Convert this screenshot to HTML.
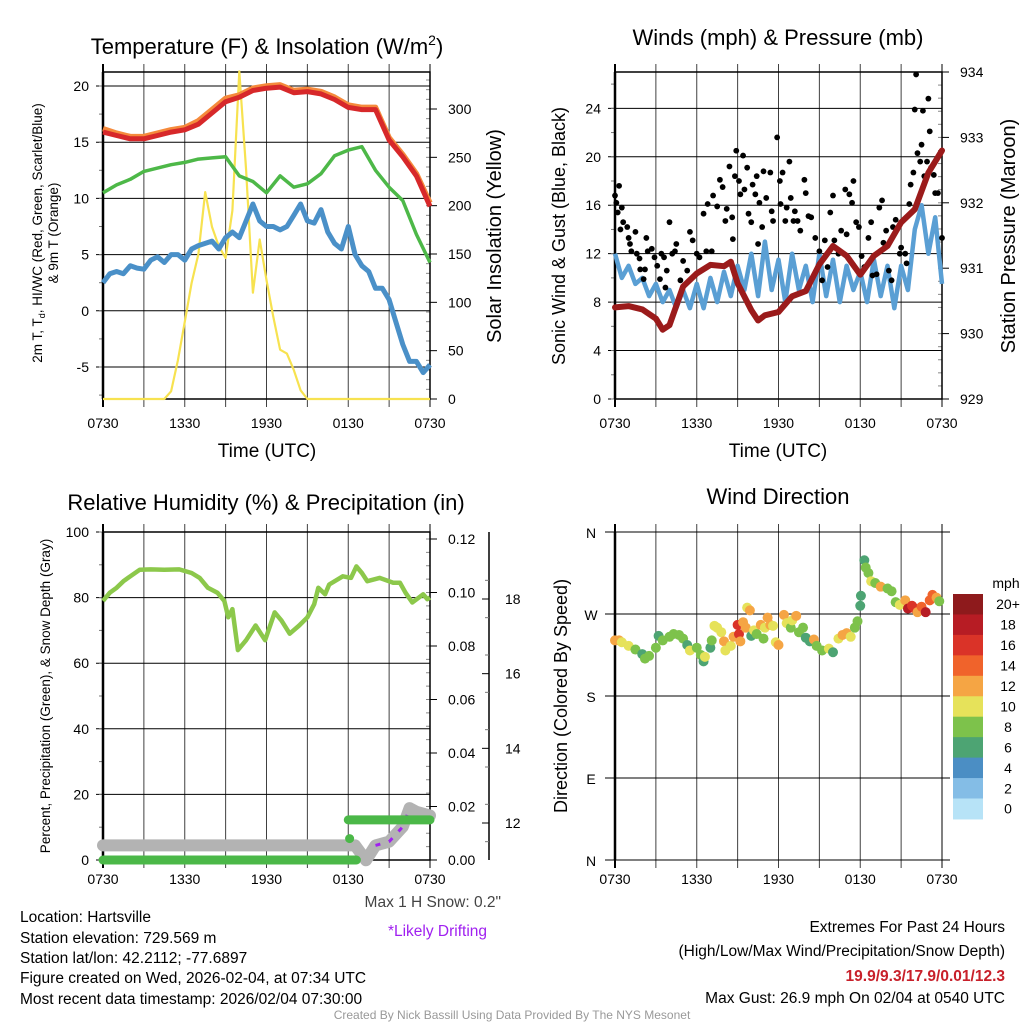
<!DOCTYPE html>
<html><head><meta charset="utf-8"><title>Mesonet Station Meteogram - Hartsville</title>
<style>
html,body{margin:0;padding:0;background:#fff;}
svg{display:block;font-family:"Liberation Sans",Arial,sans-serif;}
</style></head>
<body>
<svg id="fig" xmlns="http://www.w3.org/2000/svg" width="1024" height="1024" viewBox="0 0 1024 1024">
<rect x="0" y="0" width="1024" height="1024" fill="#fff"/>
<text x="267" y="54" font-size="22" text-anchor="middle">Temperature (F) &amp; Insolation (W/m<tspan font-size="14" dy="-9">2</tspan><tspan dy="9">)</tspan></text>
<text x="778" y="45" font-size="22" text-anchor="middle">Winds (mph) &amp; Pressure (mb)</text>
<text x="266" y="510" font-size="22" text-anchor="middle">Relative Humidity (%) &amp; Precipitation (in)</text>
<text x="778" y="504" font-size="22" text-anchor="middle">Wind Direction</text>
<text transform="translate(42,233) rotate(-90)" font-size="13.5" text-anchor="middle">2m T, T<tspan font-size="9" dy="3">d</tspan><tspan dy="-3">, HI/WC (Red, Green, Scarlet/Blue)</tspan></text>
<text transform="translate(58,233) rotate(-90)" font-size="13.5" text-anchor="middle">&amp; 9m T (Orange)</text>
<text transform="translate(501,236) rotate(-90)" font-size="20" text-anchor="middle">Solar Insolation (Yellow)</text>
<text x="267" y="457" font-size="19" text-anchor="middle">Time (UTC)</text>
<text x="778" y="457" font-size="19" text-anchor="middle">Time (UTC)</text>
<text transform="translate(565,236) rotate(-90)" font-size="18" text-anchor="middle">Sonic Wind &amp; Gust (Blue, Black)</text>
<text transform="translate(1015,236) rotate(-90)" font-size="20" text-anchor="middle">Station Pressure (Maroon)</text>
<text transform="translate(50,696) rotate(-90)" font-size="13.5" text-anchor="middle">Percent, Precipitation (Green), &amp; Snow Depth (Gray)</text>
<text transform="translate(567,696) rotate(-90)" font-size="18" text-anchor="middle">Direction (Colored By Speed)</text>
<g font-size="15.5">
<text x="20" y="922">Location: Hartsville</text>
<text x="20" y="943">Station elevation: 729.569 m</text>
<text x="20" y="963">Station lat/lon: 42.2112; -77.6897</text>
<text x="20" y="983">Figure created on Wed, 2026-02-04, at 07:34 UTC</text>
<text x="20" y="1004">Most recent data timestamp: 2026/02/04 07:30:00</text>
</g>
<text x="501" y="907" font-size="15.5" fill="#444" text-anchor="end">Max 1 H Snow: 0.2"</text>
<text x="487" y="936" font-size="15.5" fill="#a020f0" text-anchor="end">*Likely Drifting</text>
<g font-size="15.5" text-anchor="end">
<text x="1005" y="932">Extremes For Past 24 Hours</text>
<text x="1005" y="956">(High/Low/Max Wind/Precipitation/Snow Depth)</text>
<text x="1005" y="981" fill="#c8202a" font-weight="bold">19.9/9.3/17.9/0.01/12.3</text>
<text x="1005" y="1003">Max Gust: 26.9 mph On 02/04 at 0540 UTC</text>
</g>
<text x="512" y="1019" font-size="12" fill="#999" text-anchor="middle">Created By Nick Bassill Using Data Provided By The NYS Mesonet</text>
</svg>
<script>
// ---------- data ----------
const timeLabels = ["0730","1330","1930","0130","0730"];
const halfHours = [0,0.5,1,1.5,2,2.5,3,3.5,4,4.5,5,5.5,6,6.5,7,7.5,8,8.5,9,9.5,10,10.5,11,11.5,12,12.5,13,13.5,14,14.5,15,15.5,16,16.5,17,17.5,18,18.5,19,19.5,20,20.5,21,21.5,22,22.5,23,23.5,24];
const hours = [0,1,2,3,4,5,6,7,8,9,10,11,12,13,14,15,16,17,18,19,20,21,22,23,24];
const tempRed = [15.9,15.6,15.3,15.3,15.6,15.9,16.1,16.6,17.6,18.6,19.0,19.6,19.8,19.9,19.4,19.5,19.3,18.8,18.1,17.9,17.9,15.2,13.7,12.0,9.3];
const temp9m = [16.2,15.8,15.5,15.5,15.8,16.1,16.3,16.9,17.9,18.9,19.2,19.8,20.0,20.1,19.6,19.7,19.5,19.0,18.3,18.1,18.1,15.4,13.9,12.2,9.6];
const dewGreen = [10.5,11.2,11.7,12.4,12.7,13.0,13.2,13.5,13.6,13.7,12.0,11.5,10.5,12.0,11.0,11.3,12.2,13.8,14.3,14.6,12.5,11.0,9.8,6.8,4.3];
const windChill = [2.5,3.3,3.5,3.3,4.0,3.8,3.7,4.5,4.8,4.3,5.0,5.0,4.5,5.5,5.8,6.0,6.2,5.5,6.5,7.0,6.5,8.0,9.5,8.0,7.5,7.5,7.2,7.5,8.5,9.5,8.0,7.8,9.0,7.0,6.0,5.5,7.5,5.0,4.0,3.5,2.0,2.0,1.0,-1.0,-3.0,-4.5,-4.5,-5.5,-4.8];
const solar = [0,0,0,0,0,0,0,0,0,0,8,40,80,120,150,214,178,158,146,195,339,237,110,165,123,85,51,47,30,9,0,0,0,0,0,0,0,0,0,0,0,0,0,0,0,0,0,0,0];
const sonicWind = [12,10,11,9.5,10,8.5,9.5,8,9,7.5,9,7.5,9.5,7.5,10,8,10.5,8.5,11,9,12,8.5,13,9,11.5,8,12,9,11,8,12,8.5,11.5,8,11,9,10.5,8,11.5,8.5,11,7.5,11,9,14,16,12,15,9.5];
const pressureHours = [0,1,2,3,3.5,4,5,6,7,8,8.5,9,10,10.5,11,12,13,14,15,16,17,18,19,20,21,22,23,24];
const pressureValues = [930.4,930.42,930.37,930.23,930.06,930.13,930.72,930.92,931.05,931.03,931.1,930.77,930.36,930.2,930.28,930.33,930.57,930.65,931.06,931.34,931.19,930.9,931.19,931.34,931.7,931.9,932.46,932.8];
const gustHours = [0,0.1,0.2,0.3,0.5,0.6,0.4,0.9,1.0,1.1,1.2,1.5,1.6,1.8,1.85,2.1,2.2,2.3,2.4,2.7,2.9,3.1,3.3,3.4,3.6,3.7,3.8,4.0,4.2,4.4,4.5,4.8,5.0,5.3,5.5,5.7,6.0,6.2,6.5,6.7,6.8,7.1,7.2,7.5,7.7,7.9,8.1,8.2,8.4,8.6,8.65,8.8,8.9,9.1,9.2,9.4,9.5,9.7,9.8,10.0,10.1,10.3,10.4,10.5,10.6,10.8,10.9,11.1,11.4,11.5,11.6,11.9,12.1,12.15,12.3,12.5,12.6,12.8,12.9,13.1,13.2,13.4,13.6,13.9,14.0,14.2,14.4,14.7,15.0,15.2,15.4,15.6,15.8,16.0,16.1,16.4,16.6,16.9,17.0,17.2,17.4,17.5,17.7,17.9,18.1,18.3,18.6,18.8,18.9,19.2,19.4,19.6,19.7,19.9,20.1,20.3,20.4,20.6,20.9,21.0,21.3,21.4,21.6,21.7,21.9,22.0,22.1,22.2,22.4,22.5,22.6,22.7,22.9,23.0,23.1,23.2,23.4,23.5,23.7,24.0];
const gustValues = [16.8,16.2,15.4,17.6,15.8,14.6,14.0,14.2,13.3,12.8,12.2,13.8,12.0,11.6,10.7,9.9,10.7,13.3,12.2,12.4,11.7,11.0,9.9,12.0,11.7,9.2,10.6,14.6,12.0,12.2,12.8,9.8,11.4,10.6,13.8,13.1,12.0,11.7,15.3,12.2,16.1,12.2,16.8,15.9,18.1,17.5,14.7,15.7,19.2,15.0,13.2,18.4,20.5,18.0,16.9,20.1,17.3,19.1,15.3,14.6,17.7,16.9,18.4,12.8,16.2,14.2,18.8,16.6,18.7,15.5,14.7,21.6,18.0,16.1,18.7,14.7,15.8,19.6,16.6,14.7,15.5,14.7,13.9,18.1,17.0,15.1,15.0,13.3,12.2,9.8,13.1,10.9,15.4,16.8,13.1,12.0,13.9,17.3,13.6,16.9,16.2,18.0,14.6,14.2,11.8,10.9,13.3,14.6,10.2,10.3,15.8,16.4,12.9,13.9,10.6,9.8,14.2,14.8,12.0,12.5,12.0,11.2,16.1,17.7,18.7,23.9,26.8,20.3,19.6,21.0,23.8,18.4,19.6,24.8,22.1,19.1,18.5,17.0,17.0,13.3];
const rhHours = [0,0.5,1,1.5,2,2.7,3.5,4.5,5.6,6.5,7.1,7.7,8.4,8.9,9.2,9.5,9.9,10.5,11.2,11.9,12.6,13.1,13.7,14.4,15.0,15.5,15.8,16.3,16.6,17.6,18.2,18.6,19.0,19.4,20.3,21.3,21.8,22.2,22.7,23.5,23.8,24];
const rhValues = [79,81.5,83,85,86.5,88.5,88.6,88.5,88.6,87.5,86,83,81.5,79,74,76.5,64,67,71.5,67,75.5,73,69,71.5,74,78,83,81,84,86.5,86,89.5,87.5,85,86,84.5,84.5,81.5,78.5,81,79.5,80];
const precipStart = [0,18.0,18.1];
const precipEnd = [18.6,24,18.1];
const precipValues = [0,0.015,0.008];
const snowHours = [0,18.5,19.3,20,21,22,22.5,23,24];
const snowValues = [11.4,11.4,11.0,11.4,11.5,11.9,12.4,12.3,12.2];
const driftHours = [20,21,22,22.5];
const driftValues = [11.4,11.5,11.9,12.4];
const dirHours = [0,0.3,0.5,1,1.5,2,2.2,2.5,3,3.2,3.5,4,4.3,4.7,5,5.3,5.5,6,6.3,6.5,6.6,7.0,7.1,7.3,7.5,7.8,8,8.1,8.5,8.7,9.0,9.1,9.2,9.4,9.6,9.7,9.9,10.0,10.2,10.4,10.7,10.9,11.0,11.2,11.4,11.6,11.8,12.0,12.4,12.6,12.9,13.0,13.3,13.5,13.8,14,14.3,14.6,14.8,15.2,15.7,16.0,16.4,16.7,17.0,17.3,17.6,17.8,18.0,18.05,18.3,18.4,18.6,18.8,19.1,19.5,20.0,20.3,20.6,20.9,21.3,21.5,21.8,22.0,22.2,22.5,22.8,23.1,23.3,23.6,23.8];
const dirValues = [241,241,239,235,231,226,221,224,233,246,241,245,248,247,243,236,230,233,225,218,223,233,241,257,255,250,240,230,235,245,258,248,240,261,255,277,274,246,252,248,258,243,255,266,258,257,239,236,269,260,255,263,268,250,255,244,240,242,235,230,232,228,243,247,249,245,255,262,279,290,329,321,315,306,304,300,298,295,283,280,285,276,279,276,272,278,272,285,291,288,284];
const dirSpeeds = [12,12,10,10,8,7,8,8,8,6,8,8,8,8,8,6,10,8,8,7,10,6,8,10,10,10,12,10,10,12,16,17,12,12,12,10,13,6,10,8,12,8,10,12,12,10,10,12,12,10,8,10,12,8,8,7,6,12,8,8,10,7,10,12,12,10,8,8,7,6,6,8,8,10,8,12,8,8,8,10,12,18,16,16,12,14,18,14,14,12,8];
const speedBins = ["0","2","4","6","8","10","12","14","16","18","20+"];
const speedColors = ["#b7e3f7","#84bde6","#4b8ec4","#4da473","#7dc24b","#e6e25a","#f5a544","#f0632b","#da3328","#b71c24","#8e1a1c"];

// ---------- helpers ----------
const NS = "http://www.w3.org/2000/svg";
const svg = document.getElementById("fig");
function mk(tag, attrs, parent){
  const e = document.createElementNS(NS, tag);
  for (const k in attrs) e.setAttribute(k, attrs[k]);
  (parent || svg).appendChild(e);
  return e;
}
function linScale(d0,d1,r0,r1){ return v => r0 + (v-d0)*(r1-r0)/(d1-d0); }
function pathFrom(xs, ys, sx, sy){
  let d = "";
  for (let i=0;i<xs.length;i++) d += (i?"L":"M") + sx(xs[i]).toFixed(1) + "," + sy(ys[i]).toFixed(1);
  return d;
}
function drawTimeAxis(g, x0, x1, y0, y1, labelY){
  const sx = linScale(0,24,x0,x1);
  for (let h=0; h<=24; h+=3){
    const l = mk("line",{x1:sx(h),x2:sx(h),y1:y0-8,y2:y1+8,stroke:"#000","stroke-width":(h===0?2:1),"stroke-opacity":(h===0||h===24?1:0.75)},g);
    
    
  }
  for (let i=0;i<timeLabels.length;i++){
    const t = mk("text",{x:sx(i*6),y:labelY,"font-size":"14","text-anchor":"middle"},g);
    t.textContent = timeLabels[i];
    
    
  }
  return sx;
}
function drawLeftAxis(g, ticks, labels, sy, x0, x1, minorStep, dmin, dmax, labelX){
  for (let i=0;i<ticks.length;i++){
    const l = mk("line",{x1:x0-7,x2:x1,y1:sy(ticks[i]),y2:sy(ticks[i]),stroke:"#000","stroke-width":"1"},g);
    
    
    const t = mk("text",{x:labelX,y:sy(ticks[i])+5,"font-size":"14","text-anchor":"end"},g);
    t.textContent = labels[i];
    
    
  }
  if (minorStep){
    for (let v=Math.ceil(dmin/minorStep)*minorStep; v<=dmax; v+=minorStep){
      const m = mk("line",{x1:x0-4,x2:x0,y1:sy(v),y2:sy(v),stroke:"#777","stroke-width":"1"},g);
      
      
    }
  }
}
function drawRightAxis(g, ticks, labels, sy, x1, minorStep, dmin, dmax, labelX){
  for (let i=0;i<ticks.length;i++){
    const l = mk("line",{x1:x1,x2:x1+7,y1:sy(ticks[i]),y2:sy(ticks[i]),stroke:"#000","stroke-width":"1"},g);
    
    
    const t = mk("text",{x:labelX,y:sy(ticks[i])+5,"font-size":"14"},g);
    t.textContent = labels[i];
    
    
  }
  if (minorStep){
    for (let v=Math.ceil(dmin/minorStep)*minorStep; v<=dmax+1e-9; v+=minorStep){
      const m = mk("line",{x1:x1-4,x2:x1,y1:sy(v),y2:sy(v),stroke:"#888","stroke-width":"1"},g);
      
      
    }
  }
}
function frame(g,x0,x1,y0,y1){
  const r = mk("rect",{x:x0,y:y0,width:x1-x0,height:y1-y0,fill:"none",stroke:"#000","stroke-width":"1.5"},g);
  
  
  const l = mk("line",{x1:x0,x2:x0,y1:y0,y2:y1,stroke:"#000","stroke-width":"2.5"},g);
  
  
}

// ---------- panel 1: temperature ----------
(function(){
  const g = mk("g",{});
  
  
  const x0=103,x1=430,y0=72,y1=399;
  const sx = drawTimeAxis(g,x0,x1,y0,y1,428);
  const sy = linScale(20,-5,86,367);
  const sr = linScale(0,300,399,109);
  drawLeftAxis(g,[20,15,10,5,0,-5],["20","15","10","5","0","-5"],sy,x0,x1,2.5,-7.8,21,89);
  drawRightAxis(g,[0,50,100,150,200,250,300],["0","50","100","150","200","250","300"],sr,x1,10,0,330,448);
  frame(g,x0,x1,y0,y1);
  const yl = mk("path",{d:pathFrom(halfHours,solar,sx,sr),fill:"none",stroke:"#f7e250","stroke-width":"2.2","stroke-linejoin":"round"},g);
  
  
  const bl = mk("path",{d:pathFrom(halfHours,windChill,sx,sy),fill:"none",stroke:"#4a90c8","stroke-width":"5","stroke-linejoin":"round"},g);
  
  
  const gl = mk("path",{d:pathFrom(hours,dewGreen,sx,sy),fill:"none",stroke:"#4db848","stroke-width":"3.5","stroke-linejoin":"round"},g);
  
  
  const ol = mk("path",{d:pathFrom(hours,temp9m,sx,sy),fill:"none",stroke:"#f58a3c","stroke-width":"5.5","stroke-linejoin":"round"},g);
  
  
  const rl = mk("path",{d:pathFrom(hours,tempRed,sx,sy),fill:"none",stroke:"#d7282a","stroke-width":"5","stroke-linejoin":"round"},g);
  
  
})();

// ---------- panel 2: winds ----------
(function(){
  const g = mk("g",{});
  
  
  const x0=615,x1=942,y0=72,y1=399;
  const sx = drawTimeAxis(g,x0,x1,y0,y1,428);
  const sy = linScale(0,27,399,72);
  const sp = linScale(929,934,399,72);
  drawLeftAxis(g,[0,4,8,12,16,20,24],["0","4","8","12","16","20","24"],sy,x0,x1,2,0,27,601);
  drawRightAxis(g,[929,930,931,932,933,934],["929","930","931","932","933","934"],sp,x1,0.2,929,934,960);
  frame(g,x0,x1,y0,y1);
  const bl = mk("path",{d:pathFrom(halfHours,sonicWind,sx,sy),fill:"none",stroke:"#5a9fd4","stroke-width":"4.5","stroke-linejoin":"round"},g);
  
  
  for (let i=0;i<gustHours.length;i++){
    const c = mk("circle",{cx:sx(gustHours[i]),cy:sy(gustValues[i]),r:"2.9",fill:"#000"},g);
    
    
  }
  const pl = mk("path",{d:pathFrom(pressureHours,pressureValues,sx,sp),fill:"none",stroke:"#9b1b1b","stroke-width":"6","stroke-linejoin":"round","stroke-linecap":"round"},g);
  
  
})();

// ---------- panel 3: humidity ----------
(function(){
  const g = mk("g",{});
  
  
  const x0=103,x1=430,y0=532,y1=860;
  const sx = drawTimeAxis(g,x0,x1,y0,y1,884);
  const sy = linScale(0,100,860,532);
  const spr = linScale(0,0.12,860,539);
  const ssn = linScale(12,18,823,599);
  drawLeftAxis(g,[0,20,40,60,80,100],["0","20","40","60","80","100"],sy,x0,x1,10,0,100,89);
  drawRightAxis(g,[0,0.02,0.04,0.06,0.08,0.1,0.12],["0.00","0.02","0.04","0.06","0.08","0.10","0.12"],spr,x1,0.005,0,0.12,448);
  frame(g,x0,x1,y0,y1);
  const ax = mk("line",{x1:489,x2:489,y1:532,y2:860,stroke:"#000","stroke-width":"1.5"},g);
  
  
  const snowTicks = [12,14,16,18];
  for (let i=0;i<snowTicks.length;i++){
    const l = mk("line",{x1:482,x2:489,y1:ssn(snowTicks[i]),y2:ssn(snowTicks[i]),stroke:"#000"},g);
    
    
    const t = mk("text",{x:505,y:ssn(snowTicks[i])+5,"font-size":"14"},g);
    t.textContent = String(snowTicks[i]);
    
    
  }
  for (let v=11.5; v<=19; v+=1){
    const m = mk("line",{x1:485,x2:489,y1:ssn(v),y2:ssn(v),stroke:"#777"},g);
    
    
  }
  const sn = mk("path",{d:pathFrom(snowHours,snowValues,sx,ssn),fill:"none",stroke:"#b3b3b3","stroke-width":"12","stroke-linejoin":"round","stroke-linecap":"round"},g);
  
  
  const dr = mk("path",{d:pathFrom(driftHours,driftValues,sx,ssn),fill:"none",stroke:"#a020f0","stroke-width":"3","stroke-dasharray":"5 9"},g);
  
  
  for (let i=0;i<precipStart.length;i++){
    const pr = mk("line",{x1:sx(precipStart[i]),x2:sx(precipEnd[i]),y1:spr(precipValues[i]),y2:spr(precipValues[i]),stroke:"#4bb848","stroke-width":"9","stroke-linecap":"round"},g);
    
    
  }
  const rh = mk("path",{d:pathFrom(rhHours,rhValues,sx,sy),fill:"none",stroke:"#8cc84b","stroke-width":"4.5","stroke-linejoin":"round"},g);
  
  
})();

// ---------- panel 4: wind direction ----------
(function(){
  const g = mk("g",{});
  
  
  const x0=615,x1=942,y0=532,y1=860;
  const sx = drawTimeAxis(g,x0,x1,y0,y1,884);
  const sy = linScale(0,360,860,532);
  const dirTicks=[0,90,180,270,360], dirLabels=["N","E","S","W","N"];
  for (let i=0;i<dirTicks.length;i++){
    const l = mk("line",{x1:x0-10,x2:x1+8,y1:sy(dirTicks[i]),y2:sy(dirTicks[i]),stroke:"#000","stroke-width":"1"},g);
    
    
    const t = mk("text",{x:591,y:sy(dirTicks[i])+6,"font-size":"14","text-anchor":"middle"},g);
    t.textContent = dirLabels[i];
    
    
  }
  const l0 = mk("line",{x1:x0,x2:x0,y1:y0,y2:y1,stroke:"#000","stroke-width":"2.5"},g);
  
  
  for (let i=0;i<dirHours.length;i++){
    const bin = Math.min(10, Math.floor(dirSpeeds[i]/2));
    const c = mk("circle",{cx:sx(dirHours[i]),cy:sy(dirValues[i]),r:"5",fill:speedColors[bin]},g);
    
    
  }
  const bx=953, bw=30, btop=594, bh=20.45;
  const mph = mk("text",{x:1006,y:588,"font-size":"14","text-anchor":"middle"},g);
  mph.textContent = "mph";
  
  
  for (let i=0;i<speedBins.length;i++){
    const k = speedBins.length-1-i;
    const r = mk("rect",{x:bx,y:btop+i*bh,width:bw,height:bh+0.5,fill:speedColors[k]},g);
    
    
    const t = mk("text",{x:1008,y:btop+i*bh+bh/2+5,"font-size":"14","text-anchor":"middle"},g);
    t.textContent = speedBins[k];
    
    
  }
})();
</script>
</body></html>
